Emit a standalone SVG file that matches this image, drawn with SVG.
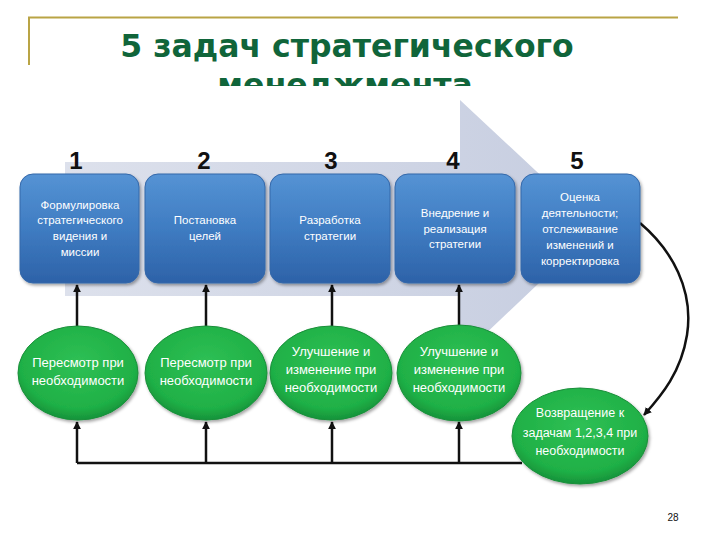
<svg xmlns="http://www.w3.org/2000/svg" width="720" height="540" viewBox="0 0 720 540">
<defs>
<linearGradient id="gBox" x1="0" y1="0" x2="0" y2="1">
<stop offset="0" stop-color="#5593d4"/>
<stop offset="0.5" stop-color="#3f7cc2"/>
<stop offset="1" stop-color="#2d62a8"/>
</linearGradient>
<radialGradient id="gEll" cx="0.5" cy="0.4" r="0.6">
<stop offset="0" stop-color="#2fc055"/>
<stop offset="0.8" stop-color="#1fb046"/>
<stop offset="1" stop-color="#16923a"/>
</radialGradient>
<linearGradient id="gArrow" x1="0" y1="0" x2="1" y2="0">
<stop offset="0" stop-color="#dde1ec"/>
<stop offset="1" stop-color="#c6cde0"/>
</linearGradient>
<filter id="sh" x="-10%" y="-10%" width="125%" height="125%">
<feDropShadow dx="1.5" dy="2" stdDeviation="1.5" flood-color="#000" flood-opacity="0.35"/>
</filter>
<marker id="ah" viewBox="0 0 10 10" refX="9" refY="5" markerWidth="3.2" markerHeight="3.2" orient="auto">
<path d="M0,0 L10,5 L0,10 z" fill="#111"/>
</marker>
<clipPath id="clipT"><rect x="0" y="66" width="720" height="20"/></clipPath>
<style>
.box{fill:url(#gBox);stroke:#3468aa;stroke-width:1;filter:url(#sh)}
.ell{fill:url(#gEll);stroke:#1a8f3a;stroke-width:1;filter:url(#sh)}
.bt{font-family:"Liberation Sans",Arial,sans-serif;font-size:11.5px;fill:#fff;text-anchor:middle}
.et{font-family:"Liberation Sans",Arial,sans-serif;font-size:13px;fill:#fff;text-anchor:middle}
.num{font-family:"Liberation Sans",Arial,sans-serif;font-size:24px;font-weight:bold;fill:#111;text-anchor:middle}
.title{font-family:"DejaVu Sans",Verdana,sans-serif;font-size:31.5px;font-weight:bold;fill:#10653a;text-anchor:middle}
.ln{fill:none;stroke:#111;stroke-width:2.5}
</style>
</defs>
<rect width="720" height="540" fill="#fff"/>
<g id="frame">
<path d="M29,65 L29,17.5 L678,17.5" fill="none" stroke="#b9a445" stroke-width="2"/>
</g>
<g id="title">
<text class="title" x="347" y="57">5 задач стратегического</text>
<text class="title" x="345" y="96" clip-path="url(#clipT)">менеджмента</text>
</g>
<g id="bigArrow">
<polygon points="65,162 460,162 460,100 597,228 460,358 460,296 65,296" fill="url(#gArrow)"/>
</g>
<g id="numbers">
<text class="num" x="76" y="169">1</text>
<text class="num" x="204" y="169">2</text>
<text class="num" x="331" y="169">3</text>
<text class="num" x="453" y="169">4</text>
<text class="num" x="577" y="169">5</text>
</g>
<g id="connectors">
<line class="ln" x1="77" y1="326" x2="77" y2="285" marker-end="url(#ah)"/>
<line class="ln" x1="206" y1="326" x2="206" y2="285" marker-end="url(#ah)"/>
<line class="ln" x1="332" y1="326" x2="332" y2="285" marker-end="url(#ah)"/>
<line class="ln" x1="459" y1="326" x2="459" y2="285" marker-end="url(#ah)"/>
<polyline class="ln" points="522,463 77,463"/>
<line class="ln" x1="77" y1="463" x2="77" y2="422" marker-end="url(#ah)"/>
<line class="ln" x1="206" y1="463" x2="206" y2="422" marker-end="url(#ah)"/>
<line class="ln" x1="332" y1="463" x2="332" y2="422" marker-end="url(#ah)"/>
<line class="ln" x1="459" y1="463" x2="459" y2="422" marker-end="url(#ah)"/>
<path class="ln" d="M640,223 C672,250 694,290 687,335 C681,372 662,395 644,415" marker-end="url(#ah)"/>
</g>
<g id="box1">
<rect class="box" x="20" y="174" width="119" height="109" rx="13"/>
<text class="bt" x="80" y="209">Формулировка</text>
<text class="bt" x="80" y="224">стратегического</text>
<text class="bt" x="80" y="240">видения и</text>
<text class="bt" x="80" y="256">миссии</text>
</g>
<g id="box2">
<rect class="box" x="145" y="174" width="120" height="109" rx="13"/>
<text class="bt" x="205" y="224">Постановка</text>
<text class="bt" x="205" y="240">целей</text>
</g>
<g id="box3">
<rect class="box" x="270" y="174" width="120" height="109" rx="13"/>
<text class="bt" x="330" y="224">Разработка</text>
<text class="bt" x="330" y="240">стратегии</text>
</g>
<g id="box4">
<rect class="box" x="395" y="174" width="120" height="109" rx="13"/>
<text class="bt" x="455" y="217">Внедрение и</text>
<text class="bt" x="455" y="233">реализация</text>
<text class="bt" x="455" y="248">стратегии</text>
</g>
<g id="box5">
<rect class="box" x="521" y="174" width="119" height="109" rx="13"/>
<text class="bt" x="580" y="201">Оценка</text>
<text class="bt" x="580" y="217">деятельности;</text>
<text class="bt" x="580" y="233">отслеживание</text>
<text class="bt" x="580" y="249">изменений и</text>
<text class="bt" x="580" y="265">корректировка</text>
</g>
<g id="ell1">
<ellipse class="ell" cx="78" cy="373" rx="60" ry="47"/>
<text class="et" x="78" y="367">Пересмотр при</text>
<text class="et" x="78" y="385">необходимости</text>
</g>
<g id="ell2">
<ellipse class="ell" cx="206" cy="373" rx="61" ry="47"/>
<text class="et" x="206" y="367">Пересмотр при</text>
<text class="et" x="206" y="385">необходимости</text>
</g>
<g id="ell3">
<ellipse class="ell" cx="331" cy="373" rx="61" ry="47"/>
<text class="et" x="331" y="356">Улучшение и</text>
<text class="et" x="331" y="374">изменение при</text>
<text class="et" x="331" y="392">необходимости</text>
</g>
<g id="ell4">
<ellipse class="ell" cx="459" cy="373" rx="62" ry="48"/>
<text class="et" x="459" y="356">Улучшение и</text>
<text class="et" x="459" y="374">изменение при</text>
<text class="et" x="459" y="392">необходимости</text>
</g>
<g id="ell5">
<ellipse class="ell" cx="580" cy="436" rx="68" ry="48"/>
<text class="et" x="580" y="417" style="font-size:12.5px">Возвращение к</text>
<text class="et" x="580" y="437" style="font-size:12.5px">задачам 1,2,3,4 при</text>
<text class="et" x="580" y="455" style="font-size:12.5px">необходимости</text>
</g>
<g id="pageNum">
<text x="673" y="521" style="font-family:'Liberation Sans',Arial,sans-serif;font-size:10px;fill:#111;text-anchor:middle">28</text>
</g>
</svg>
